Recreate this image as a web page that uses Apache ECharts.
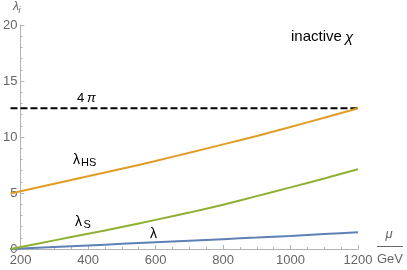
<!DOCTYPE html>
<html><head><meta charset="utf-8">
<script src="https://cdn.jsdelivr.net/npm/echarts@6/dist/echarts.min.js"></script>
<style>html,body{margin:0;padding:0;background:#fff}#c{width:407px;height:270px}</style>
</head><body><div id="c"></div>
<script>
const mu = [170, 200, 300, 400, 500, 600, 700, 800, 900, 1000, 1100, 1200];
const lambdaHS = [4.95, 5.15, 5.82, 6.49, 7.16, 7.86, 8.59, 9.34, 10.09, 10.9, 11.72, 12.57];
const lambdaS = [0, 0.18, 0.77, 1.36, 1.96, 2.6, 3.25, 3.95, 4.72, 5.5, 6.3, 7.12];
const lambdaH = [0, 0.04, 0.18, 0.32, 0.46, 0.6, 0.74, 0.88, 1.02, 1.17, 1.33, 1.49];
const fourPi = 12.566;
const xMajorTicks = [200, 400, 600, 800, 1000, 1200];
const xMinorTicks = [250, 300, 350, 450, 500, 550, 650, 700, 750, 850, 900, 950, 1050, 1100, 1150];
const yTickStep = 5;

const FF = '"Liberation Sans", Arial, sans-serif';
const axisGray = '#b3b3b3', labelGray = '#666';
const pairs = arr => mu.map((m, i) => [m, arr[i]]);

const chart = echarts.init(document.getElementById('c'));
chart.setOption({
  animation: false,
  grid: {left: 8, right: 49, top: 25, bottom: 21},
  xAxis: [{
    type: 'value', min: 170, max: 1200,
    axisLine: {show: true, onZero: false, lineStyle: {color: axisGray}},
    splitLine: {show: false},
    axisTick: {show: true, inside: true, length: 4, customValues: xMajorTicks, lineStyle: {color: axisGray}},
    axisLabel: {customValues: xMajorTicks, color: labelGray, fontSize: 13, margin: 5, fontFamily: FF,
                formatter: v => String(v)}
  }, {
    type: 'value', min: 170, max: 1200, position: 'bottom',
    axisLine: {show: false}, splitLine: {show: false},
    axisTick: {show: true, inside: true, length: 2, customValues: xMinorTicks, lineStyle: {color: axisGray}},
    axisLabel: {show: false}
  }],
  yAxis: {
    type: 'value', min: 0, max: 20, interval: yTickStep, offset: -10,
    axisLine: {show: true, lineStyle: {color: axisGray}},
    splitLine: {show: false},
    axisTick: {show: true, inside: true, length: 4, lineStyle: {color: axisGray}},
    minorTick: {show: true, splitNumber: 5, length: 2, lineStyle: {color: axisGray}},
    axisLabel: {color: labelGray, fontSize: 13, margin: 3, fontFamily: FF}
  },
  series: [
    {type: 'line', data: [[170, fourPi], [1200, fourPi]], showSymbol: false,
     lineStyle: {color: '#000', width: 2, type: [7, 3]}},
    {type: 'line', data: pairs(lambdaH), showSymbol: false, smooth: 0.2,
     lineStyle: {color: '#5E81B5', width: 2}},
    {type: 'line', data: pairs(lambdaS), showSymbol: false, smooth: 0.2,
     lineStyle: {color: '#8FB032', width: 2}},
    {type: 'line', data: pairs(lambdaHS), showSymbol: false, smooth: 0.2,
     lineStyle: {color: '#E19C24', width: 2}}
  ],
  graphic: [
    {type: 'text', x: 13, y: 7, style: {text: 'λ', fontSize: 12, fontStyle: 'italic', fill: labelGray, fontFamily: FF, textVerticalAlign: 'middle'}},
    {type: 'text', x: 18.5, y: 10.5, style: {text: 'i', fontSize: 9, fontStyle: 'italic', fill: labelGray, fontFamily: FF, textVerticalAlign: 'middle'}},
    {type: 'text', x: 389, y: 234.5, style: {text: 'μ', fontSize: 13, fontStyle: 'italic', fill: labelGray, fontFamily: FF, textAlign: 'center', textVerticalAlign: 'middle'}},
    {type: 'line', shape: {x1: 377, y1: 246.5, x2: 403, y2: 246.5}, style: {stroke: labelGray, lineWidth: 1}},
    {type: 'text', x: 390, y: 259.5, style: {text: 'GeV', fontSize: 13, fill: labelGray, fontFamily: FF, textAlign: 'center', textVerticalAlign: 'middle'}},
    {type: 'text', x: 291, y: 36.8, style: {text: 'inactive', fontSize: 15, fill: '#000', fontFamily: FF, textVerticalAlign: 'middle'}},
    {type: 'text', x: 345, y: 37.5, style: {text: 'χ', fontSize: 15, fontStyle: 'italic', fill: '#000', fontFamily: FF, textVerticalAlign: 'middle'}},
    {type: 'text', x: 77, y: 98.5, style: {text: '4', fontSize: 13, fill: '#000', fontFamily: FF, textVerticalAlign: 'middle'}},
    {type: 'text', x: 87, y: 98.5, style: {text: 'π', fontSize: 13, fontStyle: 'italic', fill: '#000', fontFamily: FF, textVerticalAlign: 'middle'}},
    {type: 'text', x: 73, y: 160, style: {text: 'λ', fontSize: 14, fill: '#000', fontFamily: FF, textVerticalAlign: 'middle'}},
    {type: 'text', x: 81, y: 163, style: {text: 'HS', fontSize: 11, fill: '#000', fontFamily: FF, textVerticalAlign: 'middle'}},
    {type: 'text', x: 75, y: 222, style: {text: 'λ', fontSize: 14, fill: '#000', fontFamily: FF, textVerticalAlign: 'middle'}},
    {type: 'text', x: 83.5, y: 225, style: {text: 'S', fontSize: 11, fill: '#000', fontFamily: FF, textVerticalAlign: 'middle'}},
    {type: 'text', x: 150, y: 234, style: {text: 'λ', fontSize: 14, fill: '#000', fontFamily: FF, textVerticalAlign: 'middle'}}
  ]
});
</script>
</body></html>
